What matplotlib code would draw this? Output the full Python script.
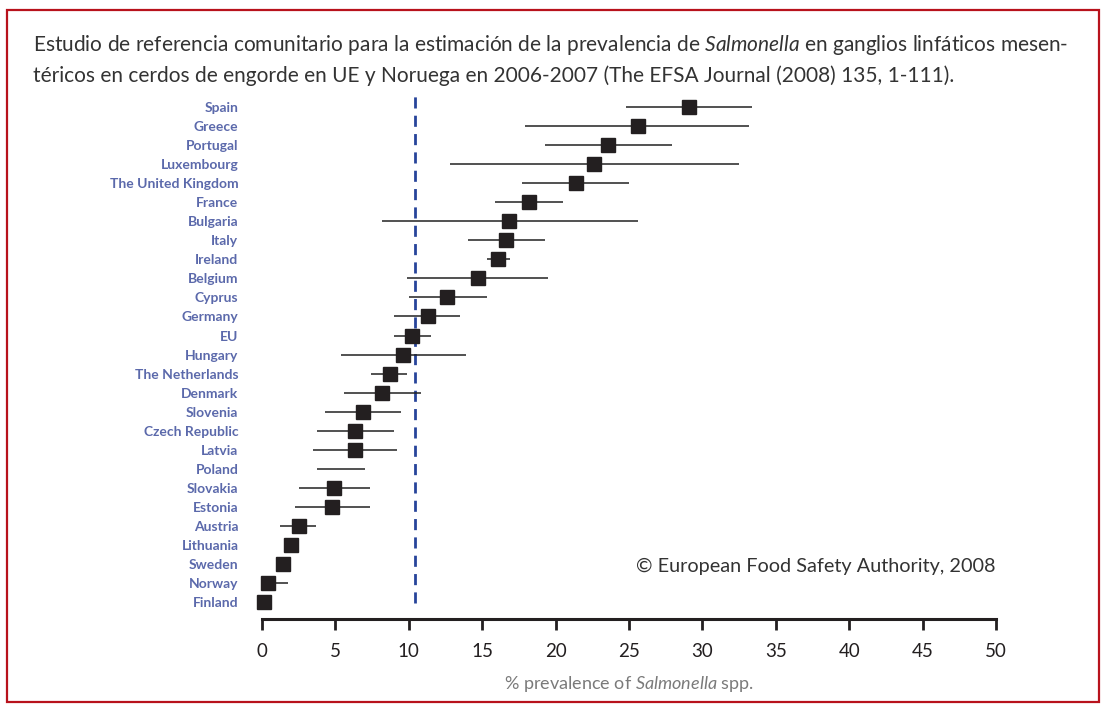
import matplotlib
matplotlib.use("Agg")
import matplotlib.pyplot as plt
from matplotlib.patches import Rectangle
import numpy as np

countries = ["Spain", "Greece", "Portugal", "Luxembourg", "The United Kingdom", "France",
             "Bulgaria", "Italy", "Ireland", "Belgium", "Cyprus", "Germany", "EU", "Hungary",
             "The Netherlands", "Denmark", "Slovenia", "Czech Republic", "Latvia", "Poland",
             "Slovakia", "Estonia", "Austria", "Lithuania", "Sweden", "Norway", "Finland"]
prevalence = [29.1, 25.6, 23.6, 22.6, 21.4, 18.2, 16.8, 16.6, 16.1, 14.7, 12.6, 11.3, 10.2, 9.6,
              8.7, 8.2, 6.9, 6.35, 6.35, np.nan, 4.9, 4.8, 2.5, 1.95, 1.45, 0.4, 0.15]
ci_low = [24.8, 17.9, 19.3, 12.8, 17.7, 15.9, 8.2, 14.0, 15.3, 9.9, 10.0, 9.0, 9.0, 5.4,
          7.4, 5.6, 4.3, 3.75, 3.5, 3.75, 2.55, 2.25, 1.2, np.nan, np.nan, 0.4, np.nan]
ci_high = [33.4, 33.2, 27.9, 32.5, 25.0, 20.5, 25.6, 19.3, 16.9, 19.5, 15.3, 13.5, 11.5, 13.9,
           9.9, 10.8, 9.5, 9.0, 9.2, 7.0, 7.35, 7.35, 3.7, np.nan, np.nan, 1.75, np.nan]
eu_reference = 10.4
xticks = [0, 5, 10, 15, 20, 25, 30, 35, 40, 45, 50]

FONT = "Lato"
plt.rcParams['font.family'] = [FONT, 'DejaVu Sans']
plt.rcParams['mathtext.fontset'] = 'custom'
plt.rcParams['mathtext.rm'] = FONT
plt.rcParams['mathtext.it'] = FONT + ':italic'
plt.rcParams['mathtext.bf'] = FONT + ':bold'

W, H = 1101, 704
fig = plt.figure(figsize=(W / 100, H / 100), dpi=100)
fig.patch.set_facecolor("white")

fig.patches.append(Rectangle((7 / W, 1 - 702 / H), (1099 - 7) / W, (702 - 10) / H,
                             transform=fig.transFigure, fill=False, edgecolor="#b8121c",
                             linewidth=1.6))

ax = fig.add_axes([262 / W, 1 - 619 / H, (996 - 262) / W, (619 - 96) / H])
n = len(countries)
ypos = np.arange(n)[::-1]

ax.axvline(eu_reference, ymin=0.03, ymax=1.0, color="#27449a", linewidth=2.0,
           linestyle=(0, (4, 2.6)), zorder=1)
for y, lo, hi in zip(ypos, ci_low, ci_high):
    if not (np.isnan(lo) or np.isnan(hi)):
        ax.plot([lo, hi], [y, y], color="#222222", linewidth=1.1, zorder=2, clip_on=False,
                solid_capstyle="butt")
ax.plot(prevalence, ypos, linestyle="none", marker="s", markersize=9.5,
        color="#231f20", zorder=3, clip_on=False)

ax.set_xlim(0, 50)
ax.set_ylim(-0.89, n - 1 + 0.58)
for s in ["top", "right", "left"]:
    ax.spines[s].set_visible(False)
ax.spines["bottom"].set_linewidth(2.2)
ax.spines["bottom"].set_color("#231f20")
ax.set_xticks(xticks)
ax.set_xticklabels([str(t) for t in xticks])
ax.tick_params(axis="x", direction="out", length=8, width=2, color="#231f20",
               labelsize=13.5, labelcolor="#231f20", pad=9)
ax.set_yticks(ypos)
ax.set_yticklabels(countries)
ax.tick_params(axis="y", length=0, pad=17, labelsize=10, labelcolor="#5b69ab")
for lbl in ax.get_yticklabels():
    lbl.set_fontweight("bold")

ax.set_xlabel(r"% prevalence of $\mathit{Salmonella}$ spp.", fontsize=13, color="#7a7a7a",
              labelpad=10)

t1 = fig.text(33 / W, 1 - 45 / H,
              r"Estudio de referencia comunitario para la estimación de la prevalencia de "
              r"$\mathit{Salmonella}$ en ganglios linfáticos mesen-",
              fontsize=13.5, color="#333333", va="center", ha="left")
t2 = fig.text(33 / W, 1 - 76 / H,
              "téricos en cerdos de engorde en UE y Noruega en 2006-2007 (The EFSA Journal (2008) 135, 1-111).",
              fontsize=13.5, color="#333333", va="center", ha="left")
cp = fig.text(995 / W, 1 - 566 / H, "© European Food Safety Authority, 2008", fontsize=13,
              color="#333333", ha="right", va="center")

fig.canvas.draw()
r = fig.canvas.get_renderer()
def fit(t, target):
    w = t.get_window_extent(r).width
    t.set_fontsize(t.get_fontsize() * target / w)
fit(t1, 1037)
t2.set_fontsize(t1.get_fontsize())
fit(cp, 358)

fig.savefig("out.png", dpi=100, facecolor="white")
